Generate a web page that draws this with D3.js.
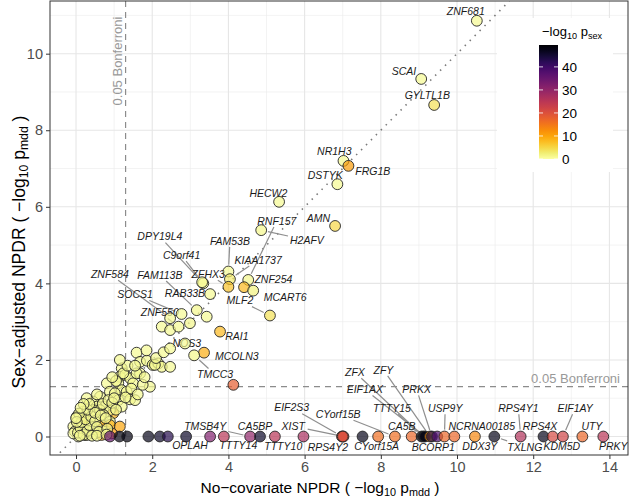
<!DOCTYPE html>
<html><head><meta charset="utf-8">
<script src="https://cdn.jsdelivr.net/npm/d3@7"></script>
<style>
body{margin:0;background:#fff}
text{font-family:"Liberation Sans",Arial,Helvetica,sans-serif}
</style>
</head><body>
<svg id="chart" width="630" height="501"></svg>
<script>
// ---------------- DATA ----------------
// x: no-covariate NPDR (-log10 p_mdd), y: sex-adjusted NPDR (-log10 p_mdd), c: -log10 p_sex
const pointX = [
 1.59,1.68,1.86,2.01,2.16,2.25,2.47,1.20,1.15,1.29,1.42,1.68,1.50,1.94,1.11,0.81,1.20,1.33,0.89,1.02,1.11,
 1.42,1.55,0.63,0.45,0.28,0.76,0.98,1.20,0.54,0.45,0.19,0.02,0.98,0.63,0.89,0.72,0.37,0.63,0.89,0.10,-0.07,
 0.19,0.89,0.67,1.15,0.72,0.94,-0.03,0.24,0.45,0.19,0.45,0.06,-0.07,0.28,0.67,1.24,1.59,2.07,
 0.05,0.12,0.20,0.30,0.35,0.15,0.25,0.40,0.50,0.55,0.60,0.08,0.30,0.50,0.65,0.78,0.82,0.35,0.70,0.85,0.95,
 1.05,1.00,0.55,0.20,0.42,0.10,0.55,0.80,0.02,0.00,0.12,1.30,1.45,1.62,1.75,1.05,0.95,1.35,1.80,1.15,1.55,
 2.10,1.85,2.30,
 3.43,2.25,2.47,2.99,2.47,4.13,
 10.52,9.06,9.40,7.02,7.15,6.86,6.80,5.33,4.86,4.52,4.00,4.04,4.00,4.41,4.65,5.09,3.34,3.31,3.52,3.17,2.77,
 2.47,2.69,2.86,3.78,3.36,3.10,
 0.89,1.14,1.34,1.90,2.20,2.41,2.89,3.52,3.88,4.57,4.83,5.22,5.97,6.98,7.02,7.00,7.52,7.93,8.37,8.81,
 9.07,9.12,9.16,9.29,9.34,9.48,9.67,9.93,10.47,10.98,11.67,12.27,12.51,12.78,13.29,13.84
];
const pointY = [
 2.19,1.95,1.98,1.87,1.91,1.82,1.82,1.78,1.56,1.61,1.52,1.65,1.39,1.30,1.39,1.39,1.21,1.17,1.17,1.13,0.95,
 0.97,0.95,1.04,0.91,1.00,0.78,0.78,0.78,0.78,0.69,0.65,0.52,0.61,0.69,0.69,0.56,0.39,0.43,0.39,0.30,0.26,
 0.48,0.30,0.30,0.26,0.13,0.08,0.13,0.04,0.08,0.17,0.19,0.00,0.08,0.04,0.04,1.65,1.65,1.87,
 0.10,0.22,0.05,0.15,0.30,0.38,0.45,0.52,0.40,0.25,0.12,0.60,0.70,0.62,0.55,0.48,0.20,0.85,0.85,0.95,0.88,
 0.70,1.00,1.10,0.85,0.02,0.02,0.02,0.05,0.38,0.48,0.75,1.02,1.25,1.10,1.35,1.45,1.55,1.85,1.55,2.00,1.85,
 2.05,2.25,2.20,
 3.13,2.87,2.78,2.96,2.30,1.35,
 10.86,9.34,8.66,7.20,7.07,6.59,5.50,6.13,5.39,4.09,4.31,4.11,3.91,3.90,3.81,3.16,4.00,4.03,3.72,3.30,3.20,
 3.09,2.87,2.43,2.74,2.19,2.12,
 0,0,0,0,0,0,0,0,0,0,0,0,0,0,0,0,0,0,0,0,
 0,0,0,0,0,0,0,0,0,0,0,0,0,0,0,0
];
const pointSex = [
 1,1,1,2,1,1.5,1,1,1,1,1,1,1,1,1,1,1,1,1,1,1,
 1,1,1,1,1,1,1,1,1,1,1,1,9,1,1,1,1,1,1,1,1,
 1,9,10,10,1,11,1,1,1,1,1,0,0,1,10,1,1,1,
 1,1,1,1,1,1,2,1,1,1,1,1,1,1,1,1,1,1,1,1,1,
 1,1,1,1,1,1,1,1,1,1,1,1,1,1,1,1,1,1,1,1,1,
 1,1,1,
 1,1,1,1.5,1,18,
 1,1,4,1,11,1,5,1,1.5,1.5,1,3,7,8,2,4,1.5,1,1,1.5,1,
 1,1,1,8,9,1.5,
 35,48,48,47,46,43,46,32,25,30,46,25,27,20,21,20,47,16,16,17,
 49,47,48,13,44,38,17,17,13,47,26,47,21,22,17,25
];
const pointGene = [
 ...Array(105).fill(""),
 "","","","","","",
 "ZNF681","SCAI","GYLTL1B","NR1H3","FRG1B","DSTYK","AMN","HECW2","H2AFV","RNF157","FAM53B","KIAA1737",
 "ZFHX3","ZNF254","MCART6","MLF2","DPY19L4","C9orf41","RAB33B","FAM113B","SOCS1","ZNF584","ZNF550","NOS3",
 "RAI1","MCOLN3","TMCC3",
 "","","","","","","OPLAH","","TTTY14","TMSB4Y","CA5BP","TTTY10","","EIF2S3","XIST","RPS4Y2","",
 "CYorf15A","CYorf15B","CA5B",
 "TTTY15","ZFX","EIF1AX","ZFY","PRKX","BCORP1","USP9Y","NCRNA00185","DDX3Y","TXLNG","RPS4Y1","RPS4X",
 "KDM5D","EIF1AY","UTY","PRKY"
];
// repelled label positions (data units)
const labelGene = ["ZNF681","SCAI","GYLTL1B","NR1H3","FRG1B","DSTYK","AMN","HECW2","H2AFV","RNF157","FAM53B",
 "KIAA1737","ZFHX3","ZNF254","MLF2","MCART6","DPY19L4","C9orf41","FAM113B","RAB33B","ZNF584","SOCS1","ZNF550",
 "NOS3","RAI1","MCOLN3","TMCC3",
 "OPLAH","TMSB4Y","TTTY14","CA5BP","TTTY10","XIST","RPS4Y2","EIF2S3","CYorf15B","CYorf15A","CA5B","ZFX","ZFY",
 "EIF1AX","TTTY15","PRKX","BCORP1","USP9Y","NCRNA00185","DDX3Y","TXLNG","RPS4Y1","RPS4X","KDM5D","EIF1AY",
 "UTY","PRKY"];
const labelX = [10.23,8.61,9.22,6.78,7.79,6.54,6.36,5.05,6.06,5.27,4.04,
 4.78,3.47,5.18,4.30,5.49,2.20,2.77,2.20,2.86,0.89,1.55,2.20,
 2.91,4.22,4.22,3.65,
 2.99,3.39,4.26,4.70,5.44,5.70,6.61,5.66,6.88,7.89,8.55,7.32,8.07,
 7.58,8.29,8.94,9.38,9.69,10.65,10.60,11.78,11.61,12.18,12.75,13.10,
 13.54,14.10];
const labelY = [11.10,9.55,8.90,7.44,6.92,6.83,5.70,6.35,5.13,5.63,5.11,
 4.61,4.24,4.11,3.55,3.64,5.22,4.74,4.22,3.74,4.24,3.71,3.24,
 2.43,2.61,2.10,1.62,
 -0.22,0.27,-0.22,0.26,-0.25,0.27,-0.27,0.75,0.58,-0.25,0.27,1.68,1.74,
 1.23,0.74,1.23,-0.27,0.74,0.26,-0.25,-0.27,0.74,0.26,-0.25,0.74,
 0.26,-0.25];
const xTicks = [0,2,4,6,8,10,12,14];
const yTicks = [0,2,4,6,8,10];
const legendTicks = [0,10,20,30,40];
const bonferroni = -Math.log10(0.05);
const sexMax = 49.5;

// ---------------- LAYOUT ----------------
const svg = d3.select("#chart");
const P = {l:50, r:628, t:1, b:455};
const x = d3.scaleLinear().domain([-0.683,14.488]).range([P.l,P.r]);
const y = d3.scaleLinear().domain([-0.483,11.376]).range([P.b,P.t]);
const col = v => d3.interpolateInferno(1 - Math.max(0,Math.min(sexMax,v))/sexMax);

svg.append("rect").attr("width",630).attr("height",501).attr("fill","#fff");
const defs = svg.append("defs");
defs.append("clipPath").attr("id","clip").append("rect")
  .attr("x",P.l).attr("y",P.t).attr("width",P.r-P.l).attr("height",P.b-P.t);

// grid
const grid = svg.append("g");
const xMinor = d3.range(1,15,2), yMinor = d3.range(1,12,2);
grid.selectAll(".xm").data(xMinor).join("line").attr("x1",d=>x(d)).attr("x2",d=>x(d))
  .attr("y1",P.t).attr("y2",P.b).attr("stroke","#ebebeb").attr("stroke-width",0.6);
grid.selectAll(".ym").data(yMinor).join("line").attr("y1",d=>y(d)).attr("y2",d=>y(d))
  .attr("x1",P.l).attr("x2",P.r).attr("stroke","#ebebeb").attr("stroke-width",0.6);
grid.selectAll(".xM").data(xTicks).join("line").attr("x1",d=>x(d)).attr("x2",d=>x(d))
  .attr("y1",P.t).attr("y2",P.b).attr("stroke","#e6e6e6").attr("stroke-width",1.1);
grid.selectAll(".yM").data(yTicks).join("line").attr("y1",d=>y(d)).attr("y2",d=>y(d))
  .attr("x1",P.l).attr("x2",P.r).attr("stroke","#e6e6e6").attr("stroke-width",1.1);

const plot = svg.append("g").attr("clip-path","url(#clip)");
// identity dotted line
plot.append("line").attr("x1",x(-0.683)).attr("y1",y(-0.683)).attr("x2",x(11.376)).attr("y2",y(11.376))
  .attr("stroke","#7a7a7a").attr("stroke-width",1.6).attr("stroke-dasharray","1.5,5.5");
// bonferroni lines
plot.append("line").attr("x1",P.l).attr("x2",P.r).attr("y1",y(bonferroni)).attr("y2",y(bonferroni))
  .attr("stroke","#8c8c8c").attr("stroke-width",1.2).attr("stroke-dasharray","6,5");
plot.append("line").attr("y1",P.t).attr("y2",P.b).attr("x1",x(bonferroni)).attr("x2",x(bonferroni))
  .attr("stroke","#8c8c8c").attr("stroke-width",1.2).attr("stroke-dasharray","6,5");
plot.append("text").attr("x",620).attr("y",y(bonferroni)-4).attr("text-anchor","end")
  .attr("font-size",13).attr("fill","#999").text("0.05 Bonferroni");
plot.append("text").attr("transform",`translate(${x(bonferroni)-4},61) rotate(-90)`).attr("text-anchor","middle")
  .attr("font-size",13).attr("fill","#999").text("0.05 Bonferroni");

// labels + segments
const R = 5.4;
const segG = plot.append("g"), labG = plot.append("g");
labelGene.forEach((g,i)=>{
  const pi = pointGene.indexOf(g);
  const px = x(pointX[pi]), py = y(pointY[pi]);
  const cx = x(labelX[i]), cy = y(labelY[i]);
  const t = labG.append("text").attr("x",cx).attr("y",cy).attr("dy","0.35em").attr("text-anchor","middle")
    .attr("font-size",10.5).attr("font-style","italic").attr("fill","#1a1a1a").text(g);
  const bb = t.node().getBBox();
  const hw = bb.width/2 + 1.5, hh = 6;
  const dx = px-cx, dy = py-cy, dist = Math.hypot(dx,dy);
  const fBox = Math.min(dx ? hw/Math.abs(dx) : Infinity, dy ? hh/Math.abs(dy) : Infinity);
  const fEnd = 1 - (R+1.5)/dist;
  if ((fEnd - fBox)*dist > 5) {
    segG.append("line").attr("x1",cx+dx*fBox).attr("y1",cy+dy*fBox).attr("x2",cx+dx*fEnd).attr("y2",cy+dy*fEnd)
      .attr("stroke","#8f8f8f").attr("stroke-width",1.2);
  }
});

// points
plot.append("g").selectAll("circle").data(pointX.map((d,i)=>i)).join("circle")
  .attr("cx",i=>x(pointX[i])).attr("cy",i=>y(pointY[i])).attr("r",R)
  .attr("fill",i=>col(pointSex[i])).attr("fill-opacity",0.7)
  .attr("stroke","#262626").attr("stroke-width",0.9);

// axes
const axX = svg.append("g").attr("transform",`translate(0,${P.b})`)
  .call(d3.axisBottom(x).tickValues(xTicks).tickSize(4).tickPadding(3).tickFormat(d3.format("d")));
const axY = svg.append("g").attr("transform",`translate(${P.l},0)`)
  .call(d3.axisLeft(y).tickValues(yTicks).tickSize(4).tickPadding(3).tickFormat(d3.format("d")));
[axX,axY].forEach(a=>{
  a.select(".domain").remove();
  a.selectAll(".tick line").attr("stroke","#333");
  a.selectAll(".tick text").attr("fill","#4d4d4d").attr("font-size",14.5)
   .attr("font-family","'Liberation Sans',Arial,sans-serif");
});
svg.append("rect").attr("x",P.l).attr("y",P.t).attr("width",P.r-P.l).attr("height",P.b-P.t)
  .attr("fill","none").attr("stroke","#333").attr("stroke-width",1);

// axis titles
function mathTitle(sel, pre){
  sel.append("tspan").text(pre + " ( \u2212log");
  sel.append("tspan").attr("font-size","70%").attr("dy","0.28em").text("10");
  sel.append("tspan").attr("dy","-0.196em").text(" p");
  sel.append("tspan").attr("font-size","70%").attr("dy","0.28em").text("mdd");
  sel.append("tspan").attr("dy","-0.196em").text(" )");
}
const xt = svg.append("text").attr("x",320).attr("y",493).attr("text-anchor","middle")
  .attr("font-size",15.5).attr("fill","#000");
mathTitle(xt,"No\u2212covariate NPDR");
const yt = svg.append("text").attr("transform","translate(25,252) rotate(-90)").attr("text-anchor","middle")
  .attr("font-size",17.5).attr("fill","#000");
mathTitle(yt,"Sex\u2212adjusted NPDR");

// legend
const L = svg.append("g");
L.append("rect").attr("x",497).attr("y",18).attr("width",116).attr("height",154).attr("fill","#fff");
const lt = L.append("text").attr("x",542).attr("y",36).attr("font-size",13).attr("fill","#000");
lt.append("tspan").text("\u2212log");
lt.append("tspan").attr("font-size","70%").attr("dy","0.3em").text("10");
lt.append("tspan").attr("dy","-0.21em").text(" p");
lt.append("tspan").attr("font-size","70%").attr("dy","0.3em").text("sex");
const ly = d3.scaleLinear().domain([0,sexMax]).range([159,45]);
const grad = defs.append("linearGradient").attr("id","lg").attr("x1",0).attr("y1",1).attr("x2",0).attr("y2",0);
d3.range(0,1.0001,0.05).forEach(t=>grad.append("stop").attr("offset",t).attr("stop-color",col(t*sexMax)));
L.append("rect").attr("x",539).attr("y",ly(sexMax)).attr("width",19).attr("height",ly(0)-ly(sexMax)).attr("fill","url(#lg)");
legendTicks.forEach(v=>{
  L.append("line").attr("x1",539).attr("x2",543).attr("y1",ly(v)).attr("y2",ly(v)).attr("stroke","#fff").attr("stroke-opacity",0.8);
  L.append("line").attr("x1",554).attr("x2",558).attr("y1",ly(v)).attr("y2",ly(v)).attr("stroke","#fff").attr("stroke-opacity",0.8);
  L.append("text").attr("x",562).attr("y",ly(v)).attr("dy","0.35em").attr("font-size",13.5).attr("fill","#000").text(v);
});
</script>
</body></html>
